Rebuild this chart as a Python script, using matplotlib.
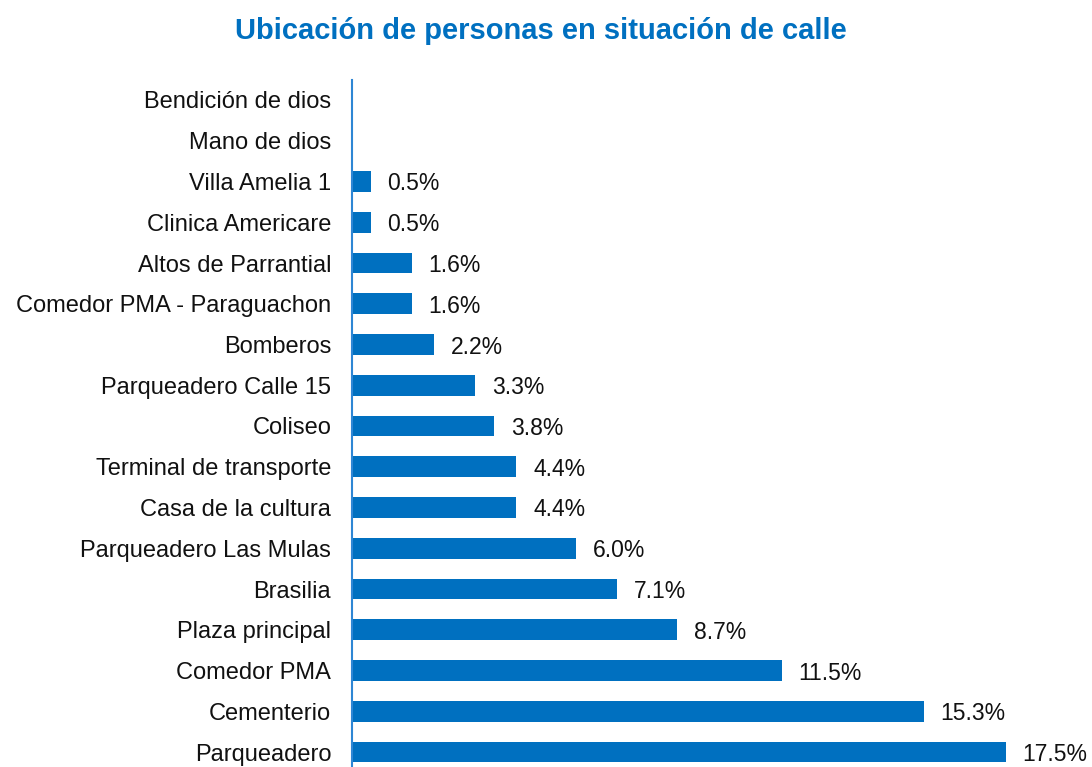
import numpy as np
import matplotlib.pyplot as plt

plt.rcParams['font.family'] = ['Liberation Sans', 'DejaVu Sans']

# datos (de arriba hacia abajo)
lugares = ['Bendición de dios', 'Mano de dios', 'Villa Amelia 1', 'Clinica Americare',
           'Altos de Parrantial', 'Comedor PMA - Paraguachon', 'Bomberos',
           'Parqueadero Calle 15', 'Coliseo', 'Terminal de transporte',
           'Casa de la cultura', 'Parqueadero Las Mulas', 'Brasilia',
           'Plaza principal', 'Comedor PMA', 'Cementerio', 'Parqueadero']
porcentajes = [0.0, 0.0, 0.5, 0.5, 1.6, 1.6, 2.2, 3.3, 3.8, 4.4, 4.4,
               6.0, 7.1, 8.7, 11.5, 15.3, 17.5]

azul = '#0070C0'

fig = plt.figure(figsize=(10.92, 7.67), dpi=100)
ax = fig.add_axes([352 / 1092, 0, 1 - 352 / 1092, 1 - 80 / 767])

y = np.arange(len(lugares))
ax.barh(y, porcentajes, height=0.51, color=azul)

for yi, v in zip(y, porcentajes):
    if v > 0:
        ax.annotate(f'{v:.1f}%', xy=(v, yi), xytext=(12, 0), textcoords='offset points',
                    va='center_baseline', ha='left', fontsize=16.5, color='#111111')

ax.set_yticks(y)
ax.set_yticklabels(lugares, fontsize=17, color='#111111', va='center_baseline')
ax.tick_params(axis='y', length=0, pad=15)
ax.set_xticks([])
ax.set_xlim(0, (1092 - 352) / 37.37)
ax.set_ylim(16 + 15 / 40.75, -20 / 40.75)

for s in ['top', 'right', 'bottom']:
    ax.spines[s].set_visible(False)
ax.spines['left'].set_color('#2E86D4')
ax.spines['left'].set_linewidth(1.5)

fig.text(541 / 1092, 1 - 31 / 767, 'Ubicación de personas en situación de calle',
         ha='center', va='center', fontsize=21, fontweight='bold', color=azul)

fig.savefig('out.png', dpi=100)
